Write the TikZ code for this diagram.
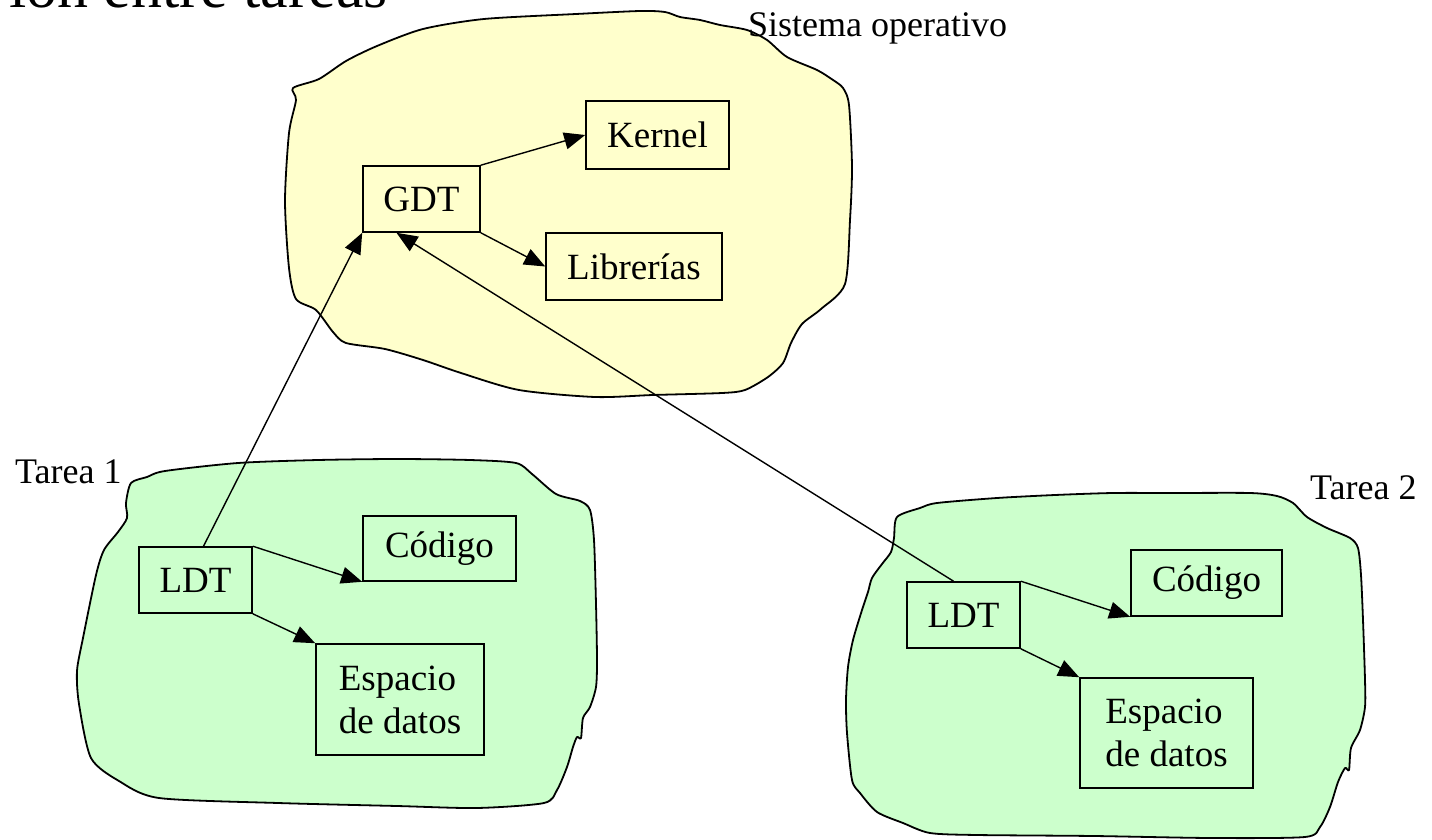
\documentclass[tikz,border=0pt]{standalone}
\usepackage{fontspec}
\setmainfont{Liberation Serif}
\usetikzlibrary{arrows.meta,calc}

\definecolor{soyellow}{HTML}{FFFFCC}
\definecolor{taskgreen}{HTML}{CCFFCC}

\tikzset{
  cloud/.style={draw=black, line width=1.8pt, line join=round},
  tbox/.style={draw=black, line width=1.6pt, inner sep=0pt, align=center,
               font=\fontsize{37}{43}\selectfont},
  link/.style={line width=1.4pt, -{Triangle[length=21pt,width=17pt]}},
  lbl/.style={inner sep=0pt, font=\fontsize{36}{42}\selectfont}
}

\begin{document}
\begin{tikzpicture}[x=1pt,y=-1pt]
\useasboundingbox (0,0) rectangle (1432,840);

% title line, cut by the top edge
\node[inner sep=0pt, anchor=base east, font=\fontsize{62}{70}\selectfont]
  (title) at (388,8) {ión entre tareas};

% operating system region
\draw[cloud, fill=soyellow] plot[smooth cycle, tension=0.45] coordinates {
  (293,88) (319,79) (346,61) (377,46) (423,29) (484,19) (576,14) (640,11)
  (665,12) (680,17) (700,20) (720,25) (747,30) (767,40) (787,57) (817,70)
  (833,80) (843,88) (849,105) (852,167) (850,220) (845,284) (821,309)
  (802,324) (791,343) (783,363) (768,377) (745,390) (722,393) (653,395)
  (595,397) (519,390) (461,373) (423,360) (385,349) (346,343) (333,332)
  (316,310) (296,299) (289,268) (285,201) (289,133) (296,100)};

% task 1 region
\draw[cloud, fill=taskgreen] plot[smooth cycle, tension=0.45] coordinates {
  (131,483) (147,477) (165,471) (238,463) (318,460) (397,459) (470,460)
  (516,463) (532,474) (556,494) (580,501) (590,510) (594,540) (596,604)
  (597,660) (596,687) (590,707) (583,718) (581,738) (577,737) (573,747)
  (567,767) (557,790) (544,803) (477,808) (397,806) (278,803) (159,798)
  (119,781) (91,758) (79,704) (77,671) (83,638) (96,575) (104,550)
  (118,532) (127,518) (126,503)};

% task 2 region
\draw[cloud, fill=taskgreen] plot[smooth cycle, tension=0.45] coordinates {
  (897,517) (920,508) (937,503) (997,498) (1055,495) (1113,493) (1172,493)
  (1250,493) (1277,496) (1293,503) (1307,517) (1327,528) (1350,538)
  (1358,548) (1361,575) (1363,620) (1365,680) (1365,707) (1360,730)
  (1351,748) (1349,770) (1345,768) (1338,782) (1330,807) (1320,827)
  (1305,837) (1211,838) (1094,836) (977,835) (930,833) (903,823) (877,812)
  (860,793) (852,780) (847,733) (846,700) (848,667) (853,640) (862,610)
  (868,592) (872,578) (882,564) (891,552) (894,538)};

% region labels
\node[lbl, anchor=base west] (so) at (748,37) {Sistema operativo};
\node[lbl, anchor=base west] (t1) at (15,483) {Tarea 1};
\node[lbl, anchor=base west] (t2) at (1310,499) {Tarea 2};

% operating system tables
\node[tbox, minimum width=117pt, minimum height=66pt] (gdt) at (421.5,199) {GDT};
\node[tbox, minimum width=143pt, minimum height=68pt] (kern) at (657.5,135) {Kernel};
\node[tbox, minimum width=176pt, minimum height=67pt] (lib) at (634,266.5) {Librerías};

% task 1
\node[tbox, minimum width=113pt, minimum height=66pt] (ldta) at (195.5,580) {LDT};
\node[tbox, minimum width=153pt, minimum height=65pt] (coda) at (439.5,548.5) {Código};
\node[tbox, minimum width=168pt, minimum height=111pt, align=left] (data) at (400,699.5) {Espacio\\de datos};

% task 2
\node[tbox, minimum width=113pt, minimum height=66pt] (ldtb) at (963.5,615) {LDT};
\node[tbox, minimum width=151pt, minimum height=66pt] (codb) at (1206.5,583) {Código};
\node[tbox, minimum width=173pt, minimum height=110pt, align=left] (datb) at (1166.5,733) {Espacio\\de datos};

% references
\draw[link] (gdt.north east) -- (kern.west);
\draw[link] (gdt.south east) -- (lib.west);
\draw[link] ([xshift=8pt]ldta.north) -- (gdt.south west);
\draw[link] ([xshift=-10pt]ldtb.north) -- ([xshift=-25pt]gdt.south);
\draw[link] (ldta.north east) -- (coda.south west);
\draw[link] (ldta.south east) -- (data.north west);
\draw[link] (ldtb.north east) -- (codb.south west);
\draw[link] (ldtb.south east) -- (datb.north west);
\end{tikzpicture}
\end{document}
